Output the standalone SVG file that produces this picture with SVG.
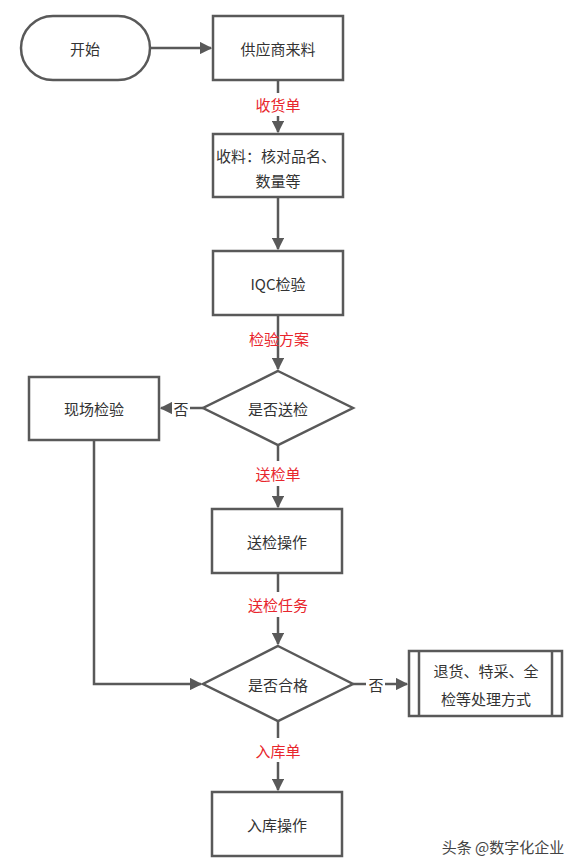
<svg xmlns="http://www.w3.org/2000/svg" width="579" height="867" viewBox="0 0 579 867">
<style>
.s{fill:#fff;stroke:#595959;stroke-width:2.5}
.c{fill:none;stroke:#595959;stroke-width:2.5}
.t{font-family:"Noto Sans CJK SC","Liberation Sans",sans-serif;font-size:15px;fill:#333;text-anchor:middle;dominant-baseline:central}
.r{font-family:"Noto Sans CJK SC","Liberation Sans",sans-serif;font-size:15px;fill:#e8262d;text-anchor:middle;dominant-baseline:central}
</style>
<defs>
<marker id="a" viewBox="0 0 10 10" refX="9" refY="5" markerWidth="5" markerHeight="5" markerUnits="strokeWidth" orient="auto">
<path d="M0,0L10,5L0,10z" fill="#595959"/>
</marker>
</defs>
<rect width="579" height="867" fill="#fff"/>
<g id="connectors">
<line class="c" x1="150" y1="48" x2="211" y2="48" marker-end="url(#a)"/>
<line class="c" x1="278" y1="80" x2="278" y2="93"/>
<line class="c" x1="278" y1="116" x2="278" y2="132" marker-end="url(#a)"/>
<line class="c" x1="278" y1="197" x2="278" y2="249" marker-end="url(#a)"/>
<line class="c" x1="278" y1="315" x2="278" y2="369" marker-end="url(#a)"/>
<line class="c" x1="203" y1="408" x2="190" y2="408"/>
<line class="c" x1="172" y1="408" x2="161" y2="408" marker-end="url(#a)"/>
<line class="c" x1="278" y1="445" x2="278" y2="461"/>
<line class="c" x1="278" y1="486" x2="278" y2="507" marker-end="url(#a)"/>
<line class="c" x1="278" y1="573" x2="278" y2="592"/>
<line class="c" x1="278" y1="617" x2="278" y2="644" marker-end="url(#a)"/>
<polyline class="c" points="94,440 94,684 201,684" marker-end="url(#a)"/>
<line class="c" x1="353" y1="684" x2="366" y2="684"/>
<line class="c" x1="385" y1="684" x2="407" y2="684" marker-end="url(#a)"/>
<line class="c" x1="278" y1="721" x2="278" y2="738"/>
<line class="c" x1="278" y1="762" x2="278" y2="790" marker-end="url(#a)"/>
<text class="r" x="278" y="104">收货单</text>
<text class="r" x="279" y="338">检验方案</text>
<text class="t" x="181" y="408">否</text>
<text class="r" x="278" y="473">送检单</text>
<text class="r" x="278" y="604">送检任务</text>
<text class="t" x="376" y="684">否</text>
<text class="r" x="278" y="750">入库单</text>
</g>
<g id="start"><rect class="s" x="21" y="16" width="129" height="64" rx="32"/><text class="t" x="85" y="48">开始</text></g>
<g id="supplier"><rect class="s" x="213" y="16" width="130" height="64"/><text class="t" x="278" y="48">供应商来料</text></g>
<g id="receive"><rect class="s" x="213" y="134" width="130" height="63"/><text class="t" x="276" y="155">收料：核对品名、</text><text class="t" x="278" y="180">数量等</text></g>
<g id="iqc"><rect class="s" x="213" y="251" width="130" height="64"/><text class="t" x="278" y="283">IQC检验</text></g>
<g id="d1"><polygon class="s" points="278,371 353,408 278,445 203,408"/><text class="t" x="278" y="408">是否送检</text></g>
<g id="onsite"><rect class="s" x="29" y="377" width="130" height="63"/><text class="t" x="94" y="408">现场检验</text></g>
<g id="sendop"><rect class="s" x="212" y="509" width="130" height="64"/><text class="t" x="277" y="541">送检操作</text></g>
<g id="d2"><polygon class="s" points="278,646 353,684 278,721 203,684"/><text class="t" x="278" y="684">是否合格</text></g>
<g id="handle"><rect class="s" x="409" y="651" width="153" height="65"/><line class="c" x1="419" y1="651" x2="419" y2="716"/><line class="c" x1="552" y1="651" x2="552" y2="716"/><text class="t" x="486" y="670">退货、特采、全</text><text class="t" x="486" y="698">检等处理方式</text></g>
<g id="store"><rect class="s" x="212" y="792" width="130" height="64"/><text class="t" x="277" y="824">入库操作</text></g>
<text x="503" y="846" font-family="Noto Sans CJK SC,sans-serif" font-size="15" fill="#444" text-anchor="middle" dominant-baseline="central">头条 @数字化企业</text>
</svg>
